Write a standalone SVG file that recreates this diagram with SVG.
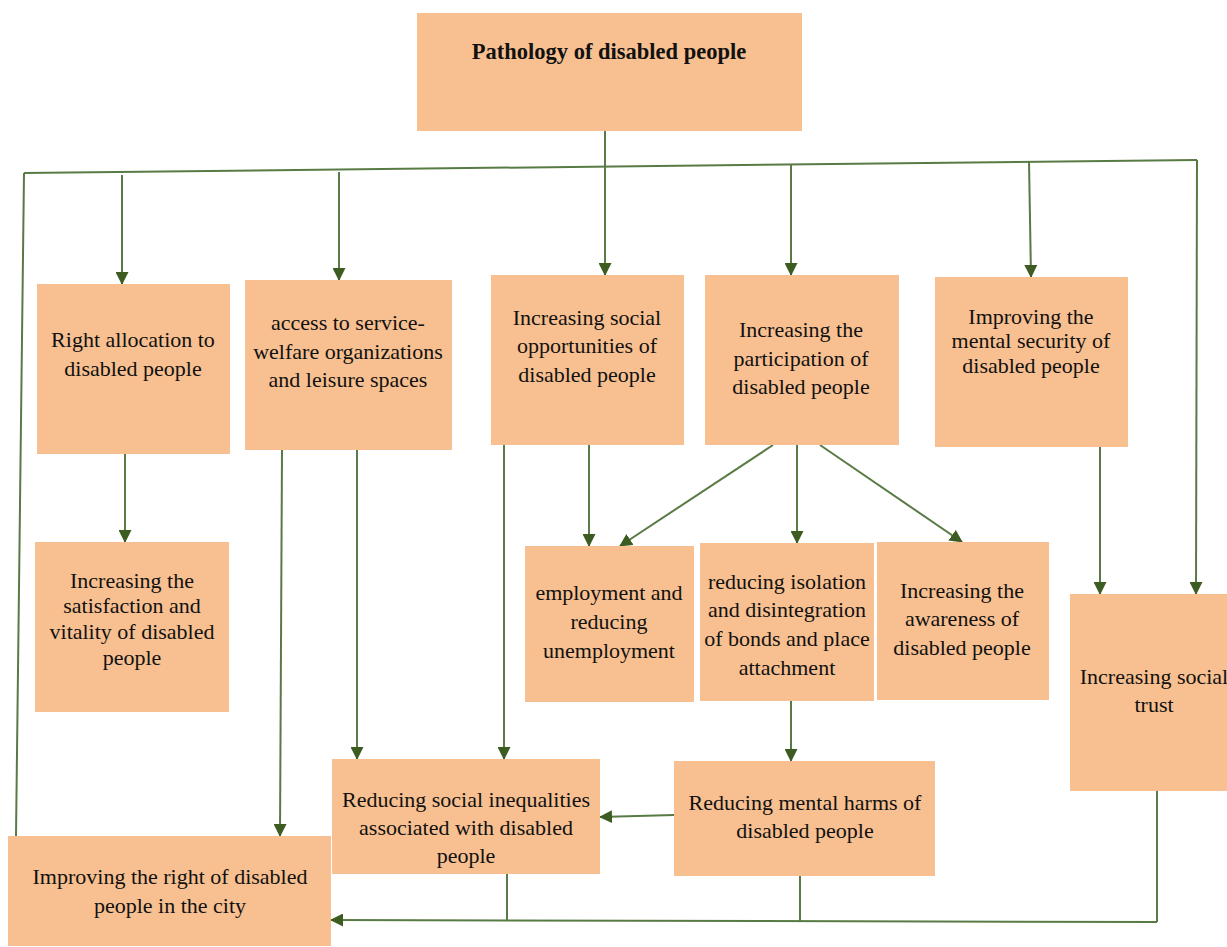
<svg xmlns="http://www.w3.org/2000/svg" width="1227" height="947" viewBox="0 0 1227 947">
<style>
.box{fill:#F8C090;}
.t{font-family:"Liberation Serif","DejaVu Serif",serif;font-size:22px;fill:#111;text-anchor:middle;}
.b{font-weight:bold;font-size:22.5px;}
.c{fill:none;stroke:#587a44;stroke-width:2;}
.a{fill:none;stroke:#587a44;stroke-width:2;marker-end:url(#ah);}
</style>
<defs>
<marker id="ah" markerWidth="13" markerHeight="13" refX="12" refY="6.5" orient="auto" markerUnits="userSpaceOnUse">
<path d="M0,0 L13,6.5 L0,13 Z" fill="#3d5c22"/>
</marker>
</defs>
<rect width="1227" height="947" fill="#fff"/>
<g id="connectors">
<line class="c" x1="24" y1="173" x2="1197" y2="160"/>
<line class="c" x1="24" y1="173" x2="16" y2="836"/>
<line class="c" x1="605" y1="131" x2="605" y2="167"/>
<line class="a" x1="605" y1="167" x2="605" y2="275"/>
<line class="a" x1="122" y1="175" x2="122" y2="284"/>
<line class="a" x1="339" y1="172" x2="339" y2="280"/>
<line class="a" x1="791" y1="165" x2="791" y2="275"/>
<line class="a" x1="1029" y1="161" x2="1031" y2="277"/>
<line class="a" x1="1197" y1="160" x2="1196" y2="594"/>
<line class="a" x1="1100" y1="447" x2="1100" y2="594"/>
<line class="a" x1="125" y1="454" x2="125" y2="542"/>
<line class="a" x1="282" y1="450" x2="280" y2="836"/>
<line class="a" x1="357" y1="450" x2="357" y2="759"/>
<line class="a" x1="504" y1="445" x2="504" y2="759"/>
<line class="a" x1="589" y1="445" x2="589" y2="546"/>
<line class="a" x1="773" y1="445" x2="620" y2="546"/>
<line class="a" x1="797" y1="445" x2="797" y2="543"/>
<line class="a" x1="820" y1="445" x2="962" y2="542"/>
<line class="a" x1="791" y1="701" x2="791" y2="761"/>
<line class="a" x1="674" y1="815" x2="600" y2="817"/>
<polyline class="c" points="1157,791 1157,922"/>
<line class="a" x1="1157" y1="922" x2="331" y2="920"/>
<line class="c" x1="507" y1="874" x2="507" y2="921"/>
<line class="c" x1="800" y1="876" x2="800" y2="921"/>
</g>
<g id="n1"><rect class="box" x="417" y="13" width="385" height="118"/>
<text class="t b" x="609" y="59">Pathology of disabled people</text></g>
<g id="n2"><rect class="box" x="37" y="284" width="193" height="170"/>
<text class="t" x="133" y="347">Right allocation to</text><text class="t" x="133" y="376">disabled people</text></g>
<g id="n3"><rect class="box" x="245" y="280" width="207" height="170"/>
<text class="t" x="348" y="330">access to service-</text><text class="t" x="348" y="359">welfare organizations</text><text class="t" x="348" y="387">and leisure spaces</text></g>
<g id="n4"><rect class="box" x="491" y="275" width="193" height="170"/>
<text class="t" x="587" y="325">Increasing social</text><text class="t" x="587" y="353">opportunities of</text><text class="t" x="587" y="382">disabled people</text></g>
<g id="n5"><rect class="box" x="705" y="275" width="194" height="170"/>
<text class="t" x="801" y="337">Increasing the</text><text class="t" x="801" y="366">participation of</text><text class="t" x="801" y="394">disabled people</text></g>
<g id="n6"><rect class="box" x="935" y="277" width="193" height="170"/>
<text class="t" x="1031" y="324">Improving the</text><text class="t" x="1031" y="348">mental security of</text><text class="t" x="1031" y="373">disabled people</text></g>
<g id="n7"><rect class="box" x="35" y="542" width="194" height="170"/>
<text class="t" x="132" y="588">Increasing the</text><text class="t" x="132" y="613">satisfaction and</text><text class="t" x="132" y="639">vitality of disabled</text><text class="t" x="132" y="665">people</text></g>
<g id="n8"><rect class="box" x="525" y="546" width="169" height="156"/>
<text class="t" x="609" y="600">employment and</text><text class="t" x="609" y="629">reducing</text><text class="t" x="609" y="658">unemployment</text></g>
<g id="n9"><rect class="box" x="700" y="543" width="174" height="158"/>
<text class="t" x="787" y="589">reducing isolation</text><text class="t" x="787" y="617">and disintegration</text><text class="t" x="787" y="646">of bonds and place</text><text class="t" x="787" y="675">attachment</text></g>
<g id="n10"><rect class="box" x="877" y="542" width="172" height="158"/>
<text class="t" x="962" y="598">Increasing the</text><text class="t" x="962" y="626">awareness of</text><text class="t" x="962" y="655">disabled people</text></g>
<g id="n11"><rect class="box" x="1070" y="594" width="170" height="197"/>
<text class="t" x="1154" y="684">Increasing social</text><text class="t" x="1154" y="712">trust</text></g>
<g id="n12"><rect class="box" x="332" y="759" width="268" height="115"/>
<text class="t" x="466" y="807">Reducing social inequalities</text><text class="t" x="466" y="835">associated with disabled</text><text class="t" x="466" y="863">people</text></g>
<g id="n13"><rect class="box" x="674" y="761" width="261" height="115"/>
<text class="t" x="805" y="810">Reducing mental harms of</text><text class="t" x="805" y="838">disabled people</text></g>
<g id="n14"><rect class="box" x="8" y="836" width="323" height="110"/>
<text class="t" x="170" y="884">Improving the right of disabled</text><text class="t" x="170" y="913">people in the city</text></g>
</svg>
